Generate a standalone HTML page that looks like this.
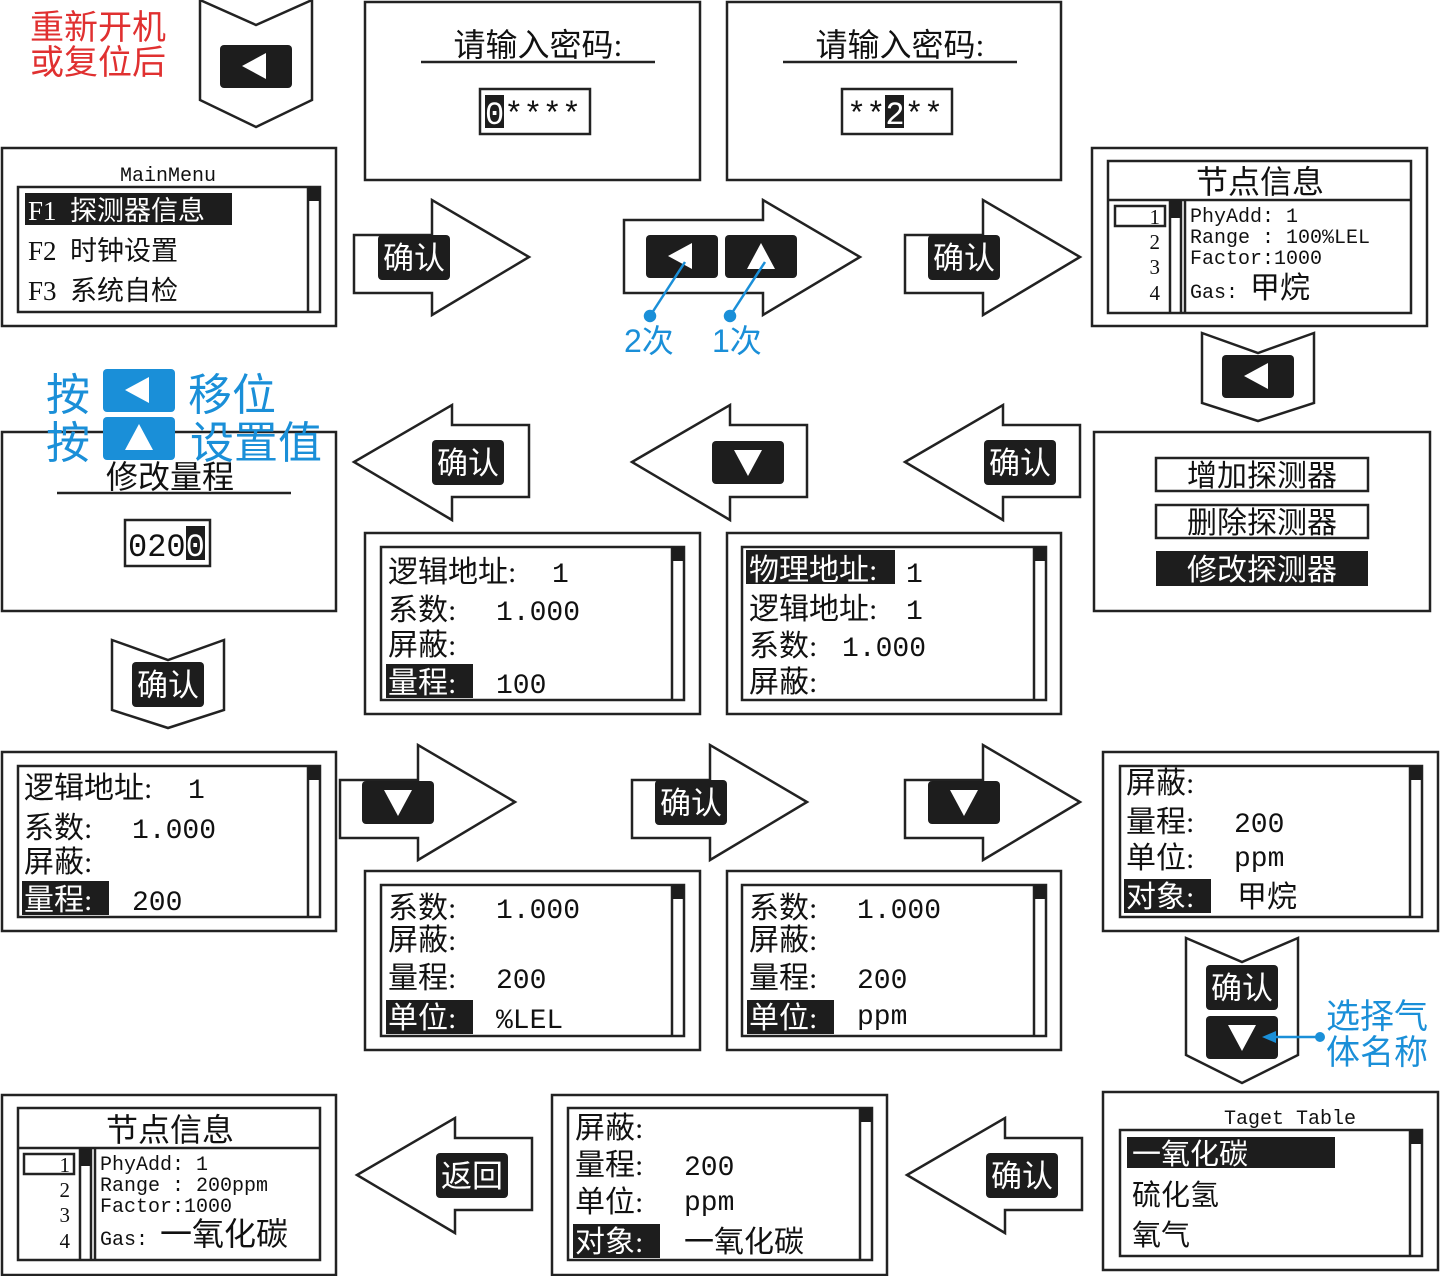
<!DOCTYPE html>
<html><head><meta charset="utf-8"><style>
html,body{margin:0;padding:0;background:#fff}
svg{display:block}
text{font-family:"Liberation Serif","Noto Sans CJK SC",serif;fill:#111;white-space:pre}
.c{font-family:"Liberation Serif","Noto Sans CJK SC",sans-serif}
.m{font-family:"Liberation Mono","Noto Sans CJK SC",monospace}
.w{fill:#fff}
.b{fill:#1a8fd8;font-family:"Liberation Sans","Noto Sans CJK SC",sans-serif}
.r{fill:#e03030;font-family:"Liberation Sans","Noto Sans CJK SC",sans-serif}
</style></head><body>
<svg width="1440" height="1276" viewBox="0 0 1440 1276" xmlns="http://www.w3.org/2000/svg">
<defs>
<polygon id="ra" points="0,35 78,35 78,0 175,57 78,115 78,93 0,93" fill="#fff" stroke="#222" stroke-width="2.5"/>
<polygon id="la" points="0,57 98,0 98,20 175,20 175,92 98,92 98,115" fill="#fff" stroke="#222" stroke-width="2.5"/>
<polygon id="dc" points="0,0 56,25 112,0 112,100 56,127 0,100" fill="#fff" stroke="#222" stroke-width="2.5"/>
<polygon id="ds" points="0,0 56,20 112,0 112,70 56,88 0,70" fill="#fff" stroke="#222" stroke-width="2.5"/>
<g id="kl"><rect x="0" y="0" width="72" height="43" rx="4" fill="#1d1d1d"/><polygon points="22,21 46,8 46,34" fill="#fff"/></g>
<g id="ku"><rect x="0" y="0" width="72" height="43" rx="4" fill="#1d1d1d"/><polygon points="36,8 22,34 50,34" fill="#fff"/></g>
<g id="kd"><rect x="0" y="0" width="72" height="43" rx="4" fill="#1d1d1d"/><polygon points="22,9 50,9 36,35" fill="#fff"/></g>
<g id="kq"><rect x="0" y="0" width="72" height="45" rx="4" fill="#1d1d1d"/><text x="36" y="34" text-anchor="middle" font-size="31" class="w c">确认</text></g>
</defs>
<g fill="none" stroke="#222" stroke-width="2.5">
<rect x="365" y="2" width="335" height="178"/>
<rect x="727" y="2" width="334" height="178"/>
<rect x="2" y="148" width="334" height="178"/>
<rect x="1092" y="148" width="335" height="178"/>
<rect x="2" y="432" width="334" height="179"/>
<rect x="1094" y="432" width="336" height="179"/>
<rect x="365" y="533" width="335" height="181"/>
<rect x="727" y="533" width="334" height="181"/>
<rect x="2" y="752" width="334" height="179"/>
<rect x="1103" y="752" width="335" height="179"/>
<rect x="365" y="871" width="335" height="179"/>
<rect x="727" y="871" width="334" height="179"/>
<rect x="2" y="1095" width="334" height="180"/>
<rect x="552" y="1095" width="335" height="180"/>
<rect x="1103" y="1092" width="335" height="178"/>
</g>
<g fill="none" stroke="#222" stroke-width="2.5">
<rect x="18" y="187" width="302" height="125"/><line x1="308" y1="187" x2="308" y2="312"/>
<rect x="381" y="547" width="303" height="153"/><line x1="672" y1="547" x2="672" y2="700"/>
<rect x="742" y="547" width="304" height="153"/><line x1="1034" y1="547" x2="1034" y2="700"/>
<rect x="18" y="766" width="302" height="151"/><line x1="308" y1="766" x2="308" y2="917"/>
<rect x="1120" y="766" width="302" height="151"/><line x1="1410" y1="766" x2="1410" y2="917"/>
<rect x="381" y="885" width="303" height="151"/><line x1="672" y1="885" x2="672" y2="1036"/>
<rect x="742" y="885" width="304" height="151"/><line x1="1034" y1="885" x2="1034" y2="1036"/>
<rect x="568" y="1108" width="304" height="152"/><line x1="860" y1="1108" x2="860" y2="1260"/>
<rect x="1120" y="1130" width="302" height="126"/><line x1="1410" y1="1130" x2="1410" y2="1256"/>
</g>
<g fill="#1d1d1d">
<rect x="308" y="187" width="12" height="14"/><rect x="672" y="547" width="12" height="14"/><rect x="1034" y="547" width="12" height="14"/>
<rect x="308" y="766" width="12" height="14"/><rect x="1410" y="766" width="12" height="14"/><rect x="672" y="885" width="12" height="14"/>
<rect x="1034" y="885" width="12" height="14"/><rect x="860" y="1108" width="12" height="14"/><rect x="1410" y="1130" width="12" height="14"/>
</g>
<!-- row1 -->
<text x="30" y="39" font-size="34" class="r">重新开机</text>
<text x="30" y="74" font-size="34" class="r">或复位后</text>
<use href="#dc" x="200" y="0"/><use href="#kl" x="220" y="45"/>
<text x="538" y="56" text-anchor="middle" font-size="32" class="c">请输入密码:</text>
<line x1="421" y1="62" x2="655" y2="62" stroke="#222" stroke-width="2.5"/>
<rect x="480" y="89" width="110" height="45" fill="none" stroke="#222" stroke-width="2.5"/>
<rect x="485" y="95" width="19" height="33" fill="#1d1d1d"/>
<text x="485" y="124" font-size="32" class="m"><tspan class="w">0</tspan>****</text>
<text x="900" y="56" text-anchor="middle" font-size="32" class="c">请输入密码:</text>
<line x1="783" y1="62" x2="1017" y2="62" stroke="#222" stroke-width="2.5"/>
<rect x="842" y="89" width="110" height="45" fill="none" stroke="#222" stroke-width="2.5"/>
<rect x="885" y="95" width="19" height="33" fill="#1d1d1d"/>
<text x="847" y="124" font-size="32" class="m">**<tspan class="w">2</tspan>**</text>
<!-- mainmenu -->
<text x="168" y="181" text-anchor="middle" font-size="20" class="m">MainMenu</text>
<rect x="25" y="193" width="207" height="32" fill="#1d1d1d"/>
<text x="28" y="220" font-size="27" class="w c">F1  探测器信息</text>
<text x="28" y="260" font-size="27" class="c">F2  时钟设置</text>
<text x="28" y="300" font-size="27" class="c">F3  系统自检</text>
<use href="#ra" x="354" y="200"/><use href="#kq" x="378" y="235"/>
<polygon points="624,220 763,220 763,200 860,257 763,315 763,293 624,293" fill="#fff" stroke="#222" stroke-width="2.5"/>
<use href="#kl" x="646" y="235"/><use href="#ku" x="725" y="235"/>
<g stroke="#1a8fd8" stroke-width="2.5" fill="#1a8fd8">
<line x1="650" y1="316" x2="685" y2="262"/><circle cx="650" cy="316" r="5"/>
<line x1="730" y1="316" x2="765" y2="262"/><circle cx="730" cy="316" r="5"/>
</g>
<text x="624" y="352" font-size="32" class="b">2次</text>
<text x="712" y="352" font-size="32" class="b">1次</text>
<use href="#ra" x="905" y="200"/><use href="#kq" x="928" y="235"/>
<!-- node info 1 -->
<g fill="none" stroke="#222" stroke-width="2.5">
<rect x="1108" y="161" width="303" height="152"/><line x1="1108" y1="200" x2="1411" y2="200"/>
<line x1="1170" y1="200" x2="1170" y2="313"/><line x1="1181" y1="200" x2="1181" y2="313"/><line x1="1185" y1="200" x2="1185" y2="313"/>
<rect x="1115" y="206" width="50" height="20"/>
</g>
<rect x="1170" y="200" width="11" height="18" fill="#1d1d1d"/>
<text x="1260" y="193" text-anchor="middle" font-size="32" class="c">节点信息</text>
<g font-size="21" text-anchor="end"><text x="1160" y="224">1</text><text x="1160" y="249">2</text><text x="1160" y="274">3</text><text x="1160" y="300">4</text></g>
<g font-size="20"><text x="1190" y="222" class="m">PhyAdd: 1</text><text x="1190" y="243" class="m">Range : 100%LEL</text><text x="1190" y="264" class="m">Factor:1000</text></g>
<text x="1190" y="298" font-size="20" class="m">Gas: <tspan font-size="30">甲烷</tspan></text>
<!-- row3 -->
<use href="#ds" x="1202" y="333"/><use href="#kl" x="1222" y="355"/>
<text x="46" y="410" font-size="44" class="b">按</text>
<rect x="103" y="369" width="72" height="43" rx="4" fill="#1a8fd8"/><polygon points="125,390 149,377 149,403" fill="#fff"/>
<text x="188" y="410" font-size="44" class="b">移位</text>
<text x="46" y="458" font-size="44" class="b">按</text>
<rect x="103" y="417" width="72" height="43" rx="4" fill="#1a8fd8"/><polygon points="139,424 125,450 153,450" fill="#fff"/>
<text x="190" y="458" font-size="44" class="b">设置值</text>
<text x="170" y="488" text-anchor="middle" font-size="32" class="c">修改量程</text>
<line x1="57" y1="493" x2="291" y2="493" stroke="#222" stroke-width="2.5"/>
<rect x="125" y="520" width="85" height="46" fill="none" stroke="#222" stroke-width="2.5"/>
<rect x="186" y="526" width="19" height="34" fill="#1d1d1d"/>
<text x="128" y="556" font-size="32" class="m">020<tspan class="w">0</tspan></text>
<use href="#la" x="354" y="405"/><use href="#kq" x="432" y="440"/>
<use href="#la" x="632" y="405"/><use href="#kd" x="712" y="441"/>
<use href="#la" x="905" y="405"/><use href="#kq" x="984" y="440"/>
<g fill="none" stroke="#222" stroke-width="2.5"><rect x="1156" y="458" width="212" height="33"/><rect x="1156" y="505" width="212" height="33"/></g>
<rect x="1156" y="551" width="212" height="35" fill="#1d1d1d"/>
<g font-size="30" text-anchor="middle"><text x="1262" y="486" class="c">增加探测器</text><text x="1262" y="533" class="c">删除探测器</text><text x="1262" y="580" class="w c">修改探测器</text></g>
<!-- row4 -->
<rect x="386" y="664" width="87" height="34" fill="#1d1d1d"/>
<g font-size="30" class="c">
<text x="388" y="582">逻辑地址:</text><text x="552" y="582" class="m" font-size="28">1</text>
<text x="388" y="620">系数:</text><text x="496" y="620" class="m" font-size="28">1.000</text>
<text x="388" y="655">屏蔽:</text>
<text x="388" y="693" class="w">量程:</text><text x="496" y="693" class="m" font-size="28">100</text>
</g>
<rect x="746" y="550" width="149" height="34" fill="#1d1d1d"/>
<g font-size="30" class="c">
<text x="749" y="580" class="w">物理地址:</text><text x="906" y="582" class="m" font-size="28">1</text>
<text x="749" y="619">逻辑地址:</text><text x="906" y="619" class="m" font-size="28">1</text>
<text x="749" y="656">系数:</text><text x="842" y="656" class="m" font-size="28">1.000</text>
<text x="749" y="692">屏蔽:</text>
</g>
<use href="#ds" x="112" y="640"/><use href="#kq" x="132" y="662"/>
<!-- row5 -->
<rect x="22" y="881" width="87" height="34" fill="#1d1d1d"/>
<g font-size="30" class="c">
<text x="24" y="798">逻辑地址:</text><text x="188" y="798" class="m" font-size="28">1</text>
<text x="24" y="838">系数:</text><text x="132" y="838" class="m" font-size="28">1.000</text>
<text x="24" y="872">屏蔽:</text>
<text x="24" y="910" class="w">量程:</text><text x="132" y="910" class="m" font-size="28">200</text>
</g>
<use href="#ra" x="340" y="745"/><use href="#kd" x="362" y="781"/>
<use href="#ra" x="632" y="745"/><use href="#kq" x="655" y="780"/>
<use href="#ra" x="905" y="745"/><use href="#kd" x="928" y="781"/>
<rect x="1124" y="879" width="87" height="34" fill="#1d1d1d"/>
<g font-size="30" class="c">
<text x="1126" y="793">屏蔽:</text>
<text x="1126" y="832">量程:</text><text x="1234" y="832" class="m" font-size="28">200</text>
<text x="1126" y="868">单位:</text><text x="1234" y="866" class="m" font-size="28">ppm</text>
<text x="1126" y="907" class="w">对象:</text><text x="1237" y="907">甲烷</text>
</g>
<rect x="386" y="1000" width="87" height="34" fill="#1d1d1d"/>
<g font-size="30" class="c">
<text x="388" y="918">系数:</text><text x="496" y="918" class="m" font-size="28">1.000</text>
<text x="388" y="950">屏蔽:</text>
<text x="388" y="988">量程:</text><text x="496" y="988" class="m" font-size="28">200</text>
<text x="388" y="1028" class="w">单位:</text><text x="496" y="1028" class="m" font-size="28">%LEL</text>
</g>
<rect x="747" y="1000" width="87" height="34" fill="#1d1d1d"/>
<g font-size="30" class="c">
<text x="749" y="918">系数:</text><text x="857" y="918" class="m" font-size="28">1.000</text>
<text x="749" y="950">屏蔽:</text>
<text x="749" y="988">量程:</text><text x="857" y="988" class="m" font-size="28">200</text>
<text x="749" y="1028" class="w">单位:</text><text x="857" y="1024" class="m" font-size="28">ppm</text>
</g>
<polygon points="1186,938 1242,962 1298,938 1298,1055 1242,1083 1186,1055" fill="#fff" stroke="#222" stroke-width="2.5"/>
<use href="#kq" x="1206" y="965"/><use href="#kd" x="1206" y="1016"/>
<line x1="1320" y1="1037" x2="1268" y2="1037" stroke="#1a8fd8" stroke-width="2.5"/>
<polygon points="1262,1037 1276,1031 1276,1043" fill="#1a8fd8"/><circle cx="1320" cy="1037" r="5" fill="#1a8fd8"/>
<text x="1326" y="1028" font-size="34" class="b">选择气</text>
<text x="1326" y="1064" font-size="34" class="b">体名称</text>
<!-- row6 -->
<g fill="none" stroke="#222" stroke-width="2.5">
<rect x="18" y="1108" width="302" height="152"/><line x1="18" y1="1148" x2="320" y2="1148"/>
<line x1="80" y1="1148" x2="80" y2="1260"/><line x1="91" y1="1148" x2="91" y2="1260"/><line x1="95" y1="1148" x2="95" y2="1260"/>
<rect x="24" y="1154" width="50" height="20"/>
</g>
<rect x="80" y="1148" width="11" height="18" fill="#1d1d1d"/>
<text x="170" y="1141" text-anchor="middle" font-size="32" class="c">节点信息</text>
<g font-size="21" text-anchor="end"><text x="70" y="1172">1</text><text x="70" y="1197">2</text><text x="70" y="1222">3</text><text x="70" y="1248">4</text></g>
<g font-size="20"><text x="100" y="1170" class="m">PhyAdd: 1</text><text x="100" y="1191" class="m">Range : 200ppm</text><text x="100" y="1212" class="m">Factor:1000</text></g>
<text x="100" y="1245" font-size="20" class="m">Gas: <tspan font-size="32">一氧化碳</tspan></text>
<use href="#la" x="357" y="1118"/>
<rect x="436" y="1153" width="72" height="45" rx="4" fill="#1d1d1d"/><text x="472" y="1187" text-anchor="middle" font-size="31" class="w c">返回</text>
<rect x="573" y="1224" width="87" height="34" fill="#1d1d1d"/>
<g font-size="30" class="c">
<text x="575" y="1138">屏蔽:</text>
<text x="575" y="1175">量程:</text><text x="684" y="1175" class="m" font-size="28">200</text>
<text x="575" y="1212">单位:</text><text x="684" y="1210" class="m" font-size="28">ppm</text>
<text x="575" y="1252" class="w">对象:</text><text x="684" y="1252">一氧化碳</text>
</g>
<use href="#la" x="907" y="1118"/><use href="#kq" x="986" y="1153"/>
<text x="1290" y="1124" text-anchor="middle" font-size="20" class="m">Taget Table</text>
<rect x="1127" y="1137" width="208" height="31" fill="#1d1d1d"/>
<g font-size="29"><text x="1132" y="1164" class="w c">一氧化碳</text><text x="1132" y="1205" class="c">硫化氢</text><text x="1132" y="1245" class="c">氧气</text></g>
</svg>
</body></html>
